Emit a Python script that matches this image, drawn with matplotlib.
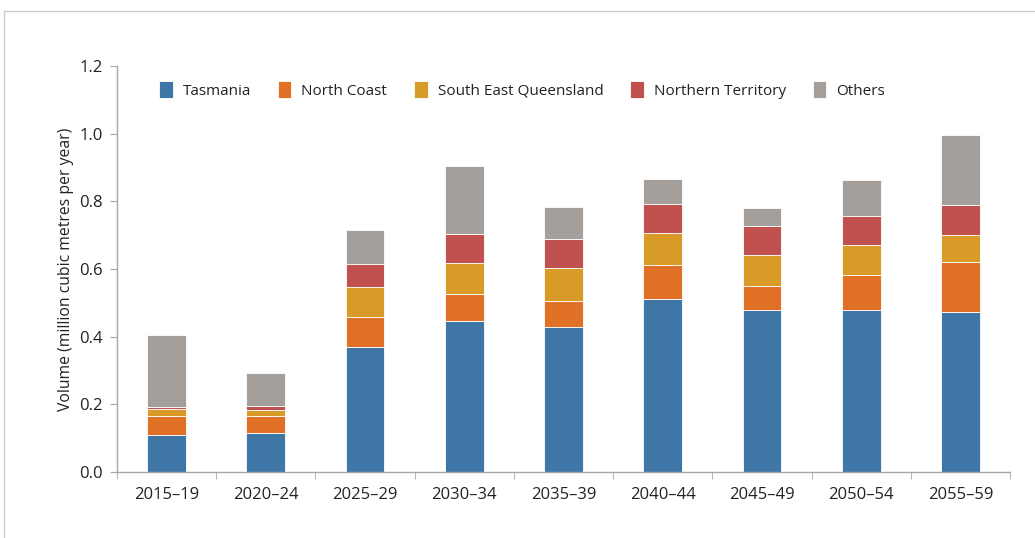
import numpy as np
from matplotlib import pyplot as plt
from matplotlib.lines import Line2D

plt.rcParams['font.family'] = ['Open Sans', 'DejaVu Sans']

periods = ['2015–19', '2020–24', '2025–29', '2030–34', '2035–39',
           '2040–44', '2045–49', '2050–54', '2055–59']
tasmania = [0.108, 0.114, 0.369, 0.447, 0.428, 0.511, 0.479, 0.479, 0.472]
north_coast = [0.058, 0.052, 0.088, 0.078, 0.078, 0.102, 0.072, 0.103, 0.150]
seq = [0.020, 0.017, 0.091, 0.092, 0.096, 0.093, 0.090, 0.088, 0.079]
northern_territory = [0.006, 0.012, 0.068, 0.087, 0.088, 0.087, 0.087, 0.087, 0.088]
others = [0.214, 0.098, 0.098, 0.200, 0.094, 0.072, 0.051, 0.105, 0.206]

series = [('Tasmania', tasmania, '#3F76A8'),
          ('North Coast', north_coast, '#E07026'),
          ('South East Queensland', seq, '#D99B28'),
          ('Northern Territory', northern_territory, '#C0514E'),
          ('Others', others, '#A59F9B')]

fig = plt.figure(figsize=(10.35, 5.38), dpi=100)
ax = fig.add_axes([117 / 1035, 1 - 472 / 538, 893 / 1035, 406 / 538])

x = np.arange(len(periods))
bottom = np.zeros(len(periods))
for name, vals, col in series:
    ax.bar(x, vals, width=0.39, bottom=bottom, color=col, label=name,
           edgecolor='white', linewidth=0.6)
    bottom += np.array(vals)

ax.set_xlim(-0.5, len(periods) - 0.5)
ax.set_ylim(0, 1.2)
ax.set_yticks(np.arange(0, 1.21, 0.2))
ax.set_yticklabels(['%.1f' % v for v in np.arange(0, 1.21, 0.2)], fontsize=12, color='#222222')
ax.set_xticks(x)
ax.set_xticklabels(periods, fontsize=12, color='#222222')
ax.set_xticks(np.arange(-0.5, len(periods), 1), minor=True)
ax.tick_params(axis='x', which='major', length=0, pad=11)
ax.tick_params(axis='x', which='minor', length=5, color='#a6a6a6', direction='out')
ax.tick_params(axis='y', length=5, color='#a6a6a6', pad=5)

for s in ['top', 'right']:
    ax.spines[s].set_visible(False)
for s in ['left', 'bottom']:
    ax.spines[s].set_color('#a6a6a6')
    ax.spines[s].set_linewidth(1.0)

ax.set_ylabel('Volume (million cubic metres per year)', fontsize=11.3, color='#222222', labelpad=4)

leg = ax.legend(loc='center', bbox_to_anchor=(0.4535, 0.941), ncol=5, frameon=False,
                fontsize=11, handlelength=0.9, handleheight=1.3, columnspacing=1.75,
                handletextpad=0.65)
for t in leg.get_texts():
    t.set_color('#222222')

# outer frame lines
fig.add_artist(Line2D([4 / 1035, 4 / 1035], [0, 1 - 11 / 538], transform=fig.transFigure,
                      color='#cccccc', linewidth=1))
fig.add_artist(Line2D([4 / 1035, 1], [1 - 11 / 538, 1 - 11 / 538], transform=fig.transFigure,
                      color='#cccccc', linewidth=1))

fig.savefig('out.png', dpi=100)
